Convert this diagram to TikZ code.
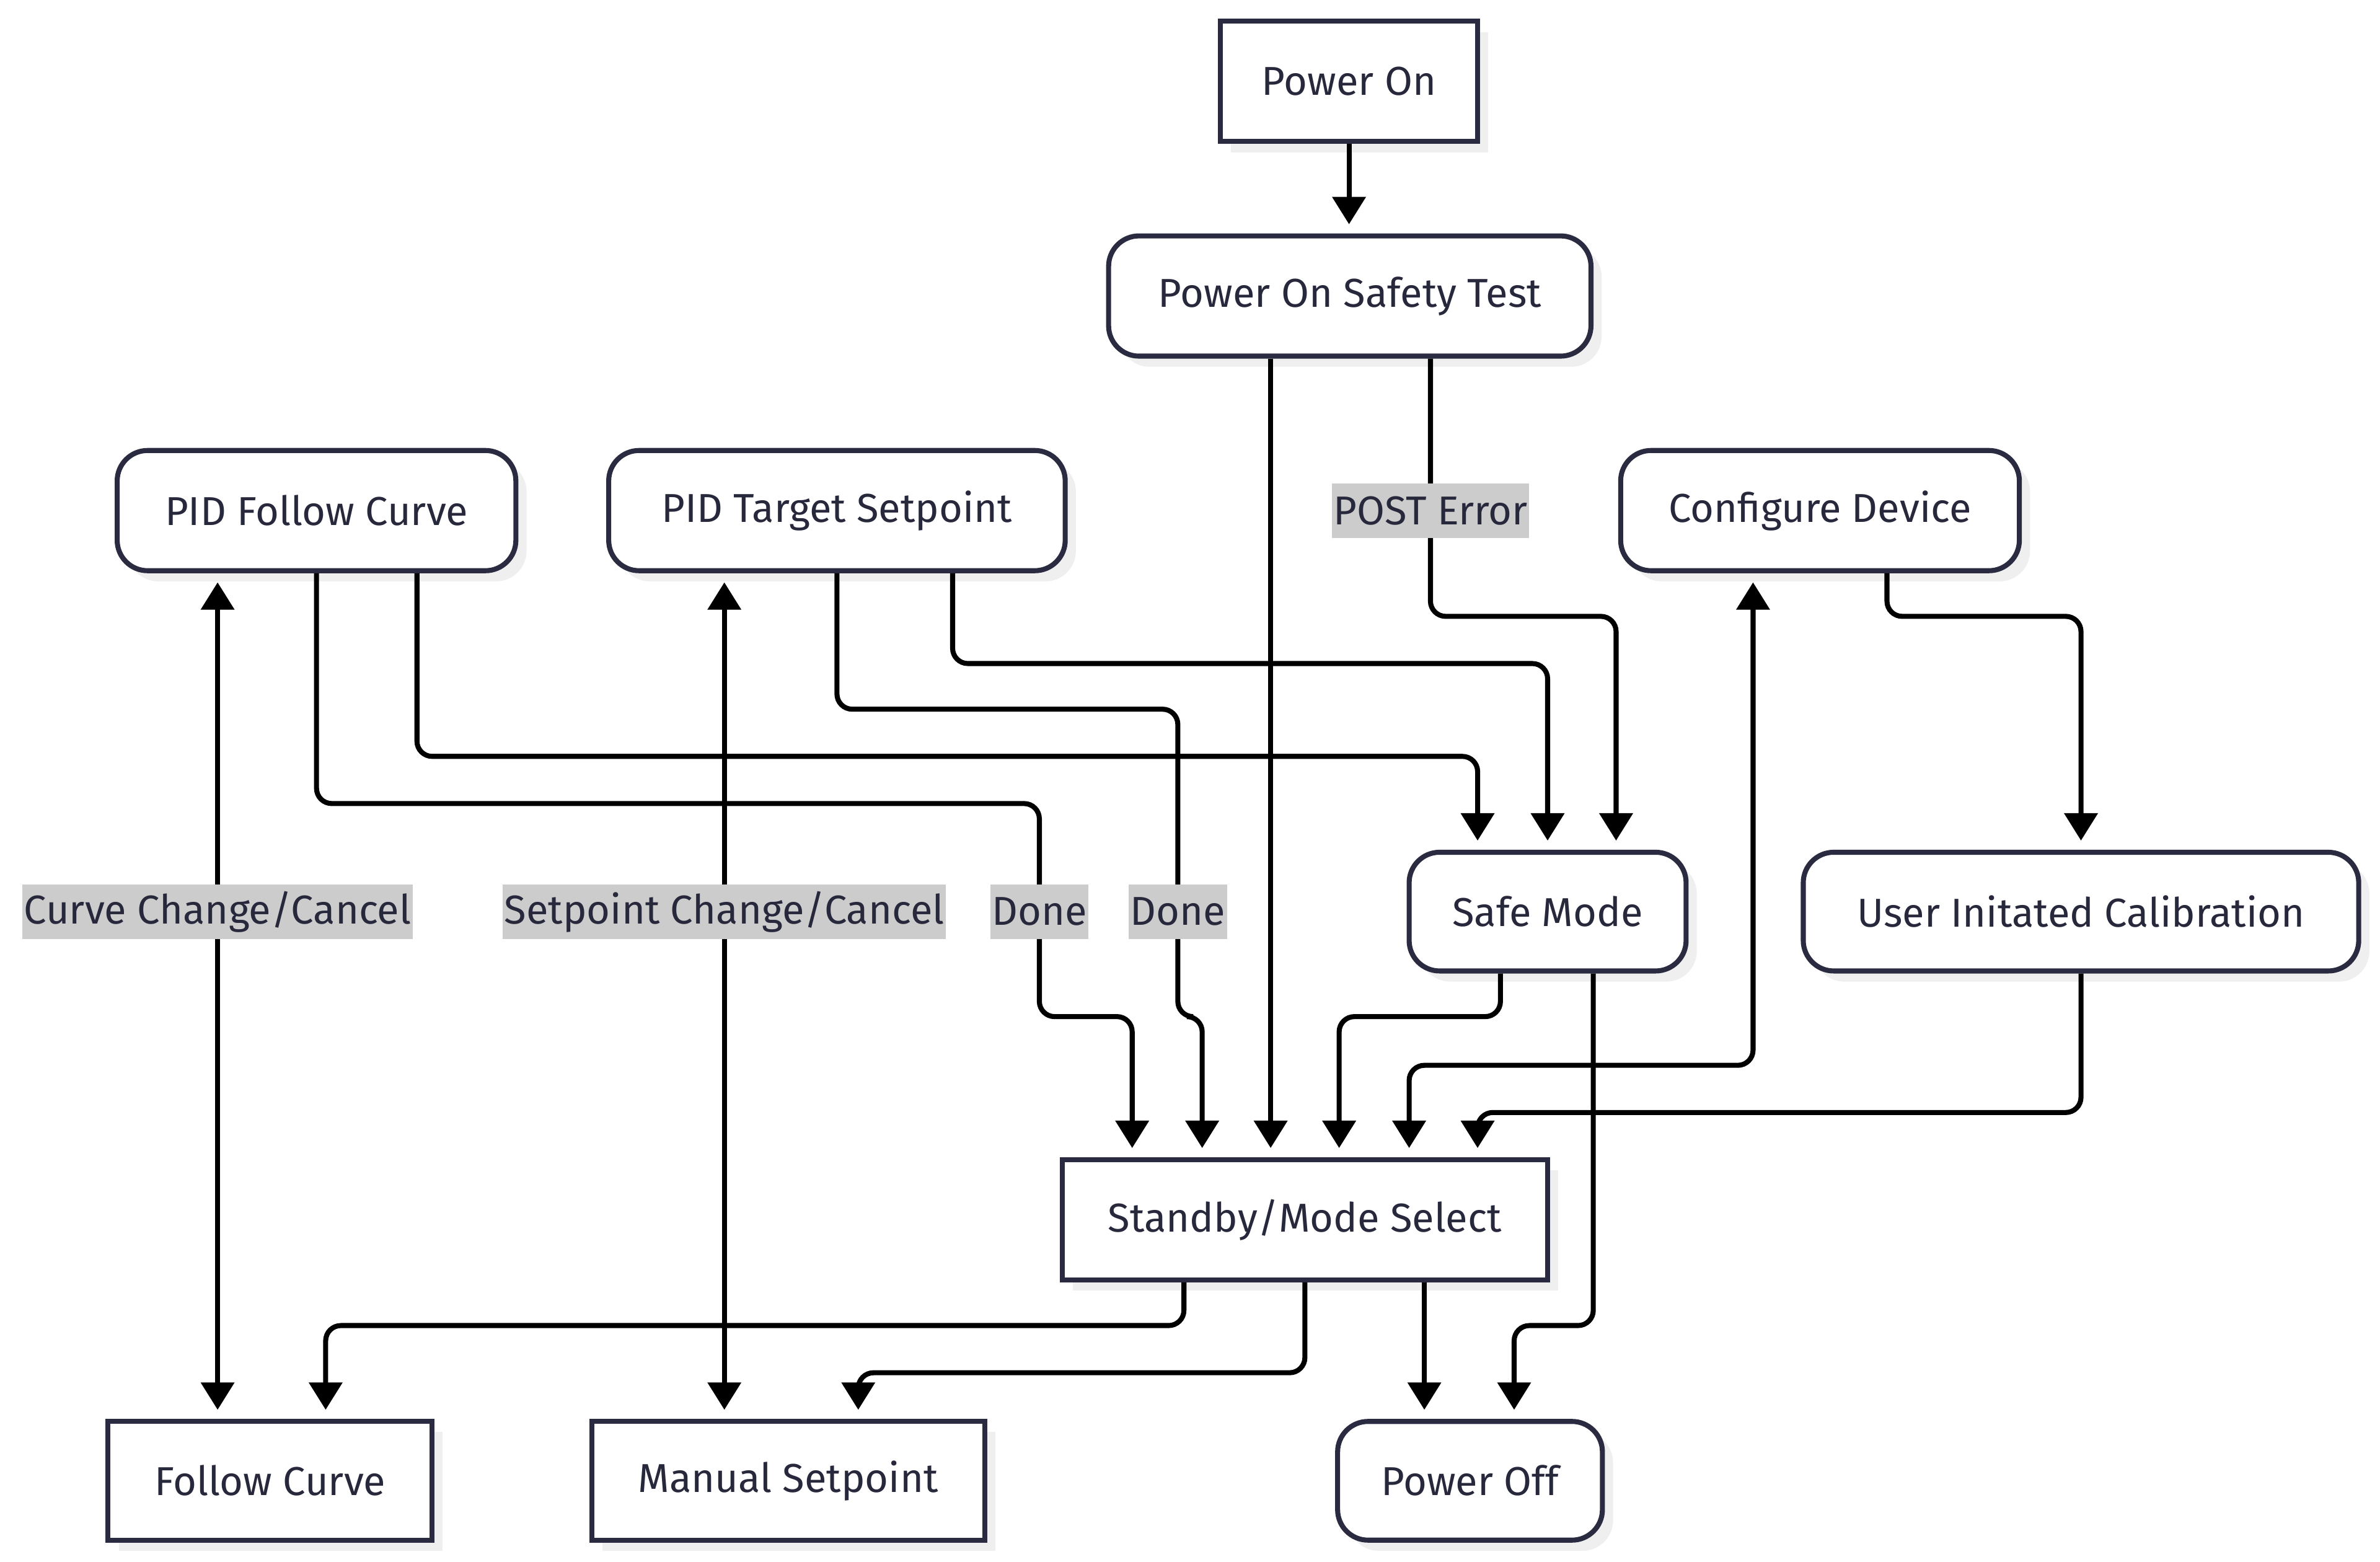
\documentclass[tikz,border=0pt]{standalone}
\usepackage{fontspec}
\setmainfont{Fira Sans}
\usetikzlibrary{arrows.meta,shadows}
\definecolor{nodeborder}{HTML}{2A2A40}
\definecolor{nodetext}{HTML}{28283C}
\definecolor{lblbg}{HTML}{CCCCCC}
\definecolor{shadowgray}{HTML}{EFEFEF}
\newcommand{\dfont}{\fontsize{26.5}{30}\selectfont}
\tikzset{
  base/.style={draw=nodeborder, line width=3.3pt, fill=white, text=nodetext, font=\dfont,
    inner sep=0pt, anchor=center,
    drop shadow={shadow xshift=7pt, shadow yshift=-7pt, fill=shadowgray, opacity=1}},
  sqbox/.style={base, rectangle},
  rndbox/.style={base, rectangle, rounded corners=20pt},
  tipx/.tip={Triangle[length=18pt,width=21.5pt]},
  edge/.style={line width=3.3pt, black, rounded corners=10pt, -tipx, shorten >=6pt},
  biedge/.style={line width=3.3pt, black, rounded corners=10pt, tipx-tipx, shorten >=6pt, shorten <=6pt},
  lbl/.style={fill=lblbg, text=nodetext, font=\dfont, inner xsep=1pt, inner ysep=0pt, minimum height=36pt}
}
\begin{document}
\begin{tikzpicture}[x=1pt,y=-1pt]
\fill[white] (0,0) rectangle (1564,1026);
\useasboundingbox (0,0) rectangle (1564,1026);

\node[sqbox, minimum width=169pt, minimum height=79pt] (pon) at (886.5,53.5) {Power On};
\node[rndbox, minimum width=317pt, minimum height=79pt] (post) at (887,194.5) {Power On Safety Test};
\node[rndbox, minimum width=262pt, minimum height=79pt] (pfc) at (208,335.5) {PID Follow Curve};
\node[rndbox, minimum width=300pt, minimum height=79pt] (pts) at (550,335.5) {PID Target Setpoint};
\node[rndbox, minimum width=262pt, minimum height=79pt] (cfg) at (1196,335.5) {Configure Device};
\node[rndbox, minimum width=182pt, minimum height=78pt] (sm) at (1017,599) {Safe Mode};
\node[rndbox, minimum width=365pt, minimum height=78pt] (uic) at (1367.5,599) {User Initated Calibration};
\node[sqbox, minimum width=319pt, minimum height=79pt] (sb) at (857.5,801.5) {Standby/Mode Select};
\node[sqbox, minimum width=213pt, minimum height=78pt] (fc) at (177.5,973) {Follow Curve};
\node[sqbox, minimum width=258pt, minimum height=78pt] (ms) at (518,973) {Manual Setpoint};
\node[rndbox, minimum width=174pt, minimum height=78pt] (poff) at (966,973) {Power Off};

% edges
\draw[edge] (pon.south) -- (post.north -| pon.south);
\draw[edge] ([xshift=-52pt]post.south) -- ([xshift=-22.5pt]sb.north);
\draw[edge] ([xshift=53pt]post.south) -- (940,405) -- (1062,405) -- ([xshift=45pt]sm.north);
\draw[edge] ([xshift=66pt]pfc.south) -- (274,497) -- (971,497) -- ([xshift=-46pt]sm.north);
\draw[edge] (pfc.south) -- (208,528) -- (683,528) -- (683,668) -- (744,668) -- ([xshift=-113.5pt]sb.north);
\draw[edge] ([xshift=76pt]pts.south) -- (626,436) -- (1017,436) -- (sm.north);
\draw[edge] (pts.south) -- (550,466) -- (774,466) -- (774,668) -- (790,668) -- ([xshift=-67.5pt]sb.north);
\draw[edge] ([xshift=-31pt]sm.south) -- (986,668) -- (880,668) -- ([xshift=22.5pt]sb.north);
\draw[edge] ([xshift=30pt]sm.south) -- (1047,871) -- (995,871) -- ([xshift=29pt]poff.north);
\draw[biedge] ([xshift=68.5pt]sb.north) -- (926,700) -- (1152,700) -- ([xshift=-44pt]cfg.south);
\draw[edge] ([xshift=44pt]cfg.south) -- (1240,405) -- (1367.5,405) -- (uic.north);
\draw[edge] (uic.south) -- (1367.5,731) -- (971,731) -- ([xshift=113.5pt]sb.north);
\draw[edge] ([xshift=-79.5pt]sb.south) -- (778,871) -- (214,871) -- ([xshift=36.5pt]fc.north);
\draw[edge] (sb.south) -- (857.5,902) -- (564,902) -- ([xshift=46pt]ms.north);
\draw[edge] ([xshift=78.5pt]sb.south) -- ([xshift=-30pt]poff.north);
\draw[biedge] ([xshift=-65pt]pfc.south) -- ([xshift=-34.5pt]fc.north);
\draw[biedge] ([xshift=-74pt]pts.south) -- ([xshift=-42pt]ms.north);

% labels
\node[lbl] (l1) at (940,335.5) {POST Error};
\node[lbl] (l2) at (143,599) {Curve Change/Cancel};
\node[lbl] (l3) at (476,599) {Setpoint Change/Cancel};
\node[lbl] (l4) at (683,599) {Done};
\node[lbl] (l5) at (774,599) {Done};
\end{tikzpicture}
\end{document}
